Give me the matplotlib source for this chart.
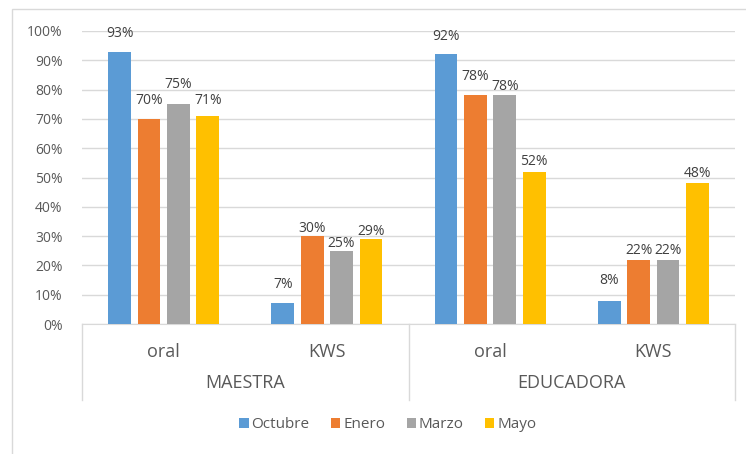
import numpy as np
import matplotlib
matplotlib.use('Agg')
from matplotlib import pyplot as plt
from matplotlib.patches import Rectangle
from matplotlib.lines import Line2D

plt.rcParams['font.family'] = ['Open Sans', 'DejaVu Sans']

groups = ['MAESTRA', 'EDUCADORA']
subcats = ['oral', 'KWS', 'oral', 'KWS']
series = ['Octubre', 'Enero', 'Marzo', 'Mayo']
octubre = [0.93, 0.07, 0.92, 0.08]
enero = [0.70, 0.30, 0.78, 0.22]
marzo = [0.75, 0.25, 0.78, 0.22]
mayo = [0.71, 0.29, 0.52, 0.48]
colors = ['#5B9BD5', '#ED7D31', '#A5A5A5', '#FFC000']

# the labels were nudged by hand in the original, gap above each bar (pixels)
label_gap = [[18, 19, 18, 20],
             [18, 8, 19, 9],
             [20, 7, 9, 9],
             [15, 8, 10, 10]]

fig = plt.figure(figsize=(7.46, 4.54), dpi=100)
ax = fig.add_axes([82 / 746, 1 - 324 / 454, (735 - 82) / 746, (324 - 31) / 454])

# light border around the whole chart area, like the Excel frame
fig.patches.append(Rectangle((12 / 746, -0.1), 1.2, 1 - 9 / 454 + 0.1,
                             transform=fig.transFigure, fill=False,
                             edgecolor='#D9D9D9', linewidth=1))

x = np.arange(len(subcats)) + 0.5
step = 0.18
width = 0.14
txt = '#404040'
for i, (name, vals) in enumerate(zip(series, [octubre, enero, marzo, mayo])):
    pos = x + (i - 1.5) * step
    ax.bar(pos, vals, width=width, color=colors[i], label=name, zorder=3)
    for px, v, g in zip(pos, vals, label_gap[i]):
        ax.text(px, v + g / 293, '%d%%' % round(v * 100), ha='center', va='center',
                fontsize=10, color=txt)

ax.set_xlim(0, 4)
ax.set_ylim(0, 1.0)
ax.set_yticks(np.arange(0, 1.01, 0.1))
ax.set_yticklabels(['%d%%' % (t * 10) for t in range(11)])
ax.tick_params(axis='y', length=0, labelsize=10, labelcolor='#595959', pad=14)
ax.set_xticks([])
ax.grid(axis='y', color='#D9D9D9', linewidth=1, zorder=0)
for s in ['top', 'right', 'left']:
    ax.spines[s].set_visible(False)
ax.spines['bottom'].set_color('#D9D9D9')

# multi-level category labels
tr = ax.get_xaxis_transform()
for xi, lab in zip(x, subcats):
    ax.text(xi, -0.096, lab, transform=tr, ha='center', va='center',
            fontsize=13, color='#595959')
for gi, g in enumerate(groups):
    ax.text(gi * 2 + 1, -0.201, g, transform=tr, ha='center', va='center',
            fontsize=13, color='#595959')
for sx in [0, 2, 4]:
    ax.add_line(Line2D([sx, sx], [0, -0.259], transform=tr, color='#D9D9D9',
                       linewidth=1, clip_on=False))

fig.legend(loc='center', bbox_to_anchor=(388 / 746, 1 - 425 / 454), ncol=4,
           frameon=False, fontsize=11, handlelength=0.6, handleheight=0.6,
           handletextpad=0.2, columnspacing=1.4, labelcolor='#595959')

fig.savefig('out.png', dpi=100)
